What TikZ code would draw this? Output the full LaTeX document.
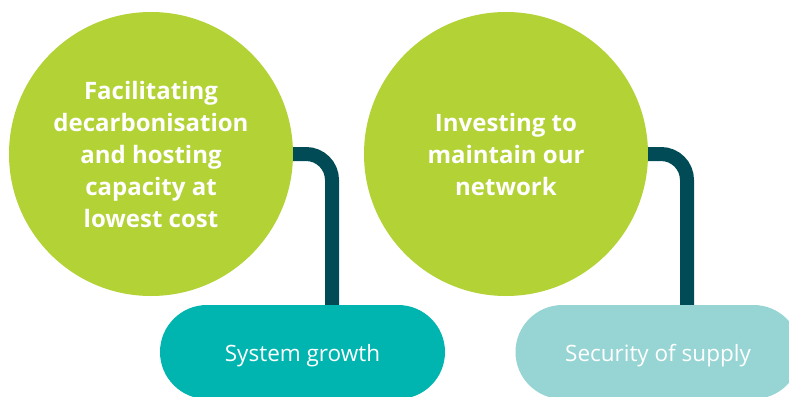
\documentclass[tikz,border=0pt]{standalone}
\usepackage{fontspec}
\setmainfont{Open Sans}
\definecolor{leaf}{HTML}{B2D235}
\definecolor{teal1}{HTML}{00B5B0}
\definecolor{teal2}{HTML}{97D5D4}
\definecolor{deep}{HTML}{004B55}
\tikzset{
  bigcircle/.style={circle, fill=leaf, minimum size=284pt, inner sep=0pt, align=center, text=white,
    font=\fontsize{24}{32}\selectfont\bfseries},
  pill/.style={rectangle, rounded corners=47pt, minimum width=285pt, minimum height=94pt, inner sep=0pt,
    text=white, font=\fontsize{22.5}{26}\selectfont},
  conn/.style={draw=deep, line width=14pt, rounded corners=26pt}
}
\begin{document}
\begin{tikzpicture}[x=1pt,y=-1pt]
\useasboundingbox (0,0) rectangle (789,396);
\node[bigcircle] (c1) at (151,154) {Facilitating\\decarbonisation\\and hosting\\capacity at\\lowest cost};
\node[bigcircle] (c2) at (506,154) {Investing to\\maintain our\\network};
\node[pill, fill=teal1] (p1) at (302.5,352) {\raisebox{-9pt}[0pt][0pt]{System growth}};
\node[pill, fill=teal2] (p2) at (658,352) {\raisebox{-9pt}[0pt][0pt]{Security of supply}};
\draw[conn] (c1.east) -| ([xshift=29.5pt]p1.north);
\draw[conn] (c2.east) -| ([xshift=29pt]p2.north);
\end{tikzpicture}
\end{document}
